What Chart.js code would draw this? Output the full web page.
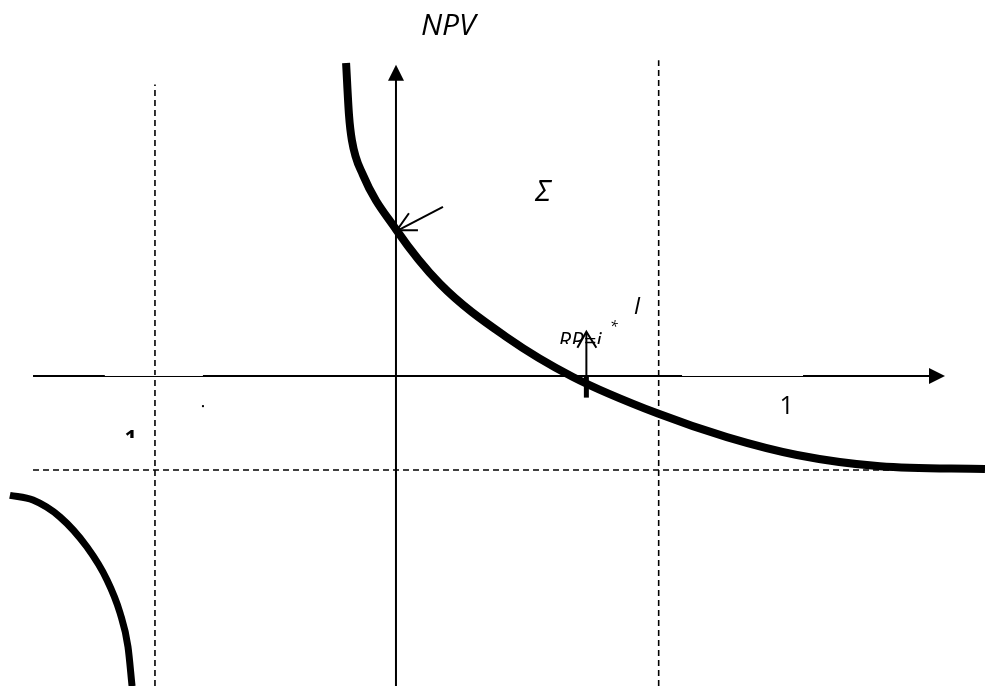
<!DOCTYPE html>
<html>
<head>
<meta charset="utf-8">
<script src="https://cdn.jsdelivr.net/npm/chart.js@4.4.0/dist/chart.umd.min.js"></script>
<style>
  html, body { margin: 0; padding: 0; background: #fff; }
  #wrap { width: 985px; height: 686px; }
</style>
</head>
<body>
<div id="wrap"><canvas id="npv"></canvas></div>
<script>
// NPV(i) curve, both branches of the hyperbola (units: i, NPV / I)
const rightX = [-0.207, -0.195, -0.183, -0.137, 0, 0.183, 0.461, 0.734, 1.087, 1.373, 1.664, 2.008, 2.444];
const rightY = [3.33, 2.78, 2.51, 2.14, 1.56, 0.98, 0.41, -0.01, -0.40, -0.65, -0.84, -0.96, -0.99];
const leftX = [-1.602, -1.506, -1.394, -1.282, -1.199, -1.145, -1.112, -1.095];
const leftY = [-1.27, -1.32, -1.50, -1.82, -2.17, -2.52, -2.88, -3.30];

// asymptotes and marked rates
const asymI = -1;      // i = -1
const asymNPV = -1;    // NPV = -I
const markI = 1.09;    // right dashed line
const irr = 0.79;      // i*

const xMin = -1.643, xMax = 2.444, yMin = -3.298, yMax = 4.0;

const pts = (xs, ys) => xs.map((x, k) => ({ x: x, y: ys[k] }));
const seg = (x1, y1, x2, y2) => [{ x: x1, y: y1 }, { x: x2, y: y2 }];

const dashed = { borderColor: '#000', borderWidth: 1.6, borderDash: [6, 4], pointRadius: 0, showLine: true, tension: 0 };
const solid = { borderColor: '#000', borderWidth: 2, pointRadius: 0, showLine: true, tension: 0 };
const curve = { borderColor: '#000', pointRadius: 0, showLine: true, cubicInterpolationMode: 'monotone', borderCapStyle: 'butt' };

const drawExtras = {
    id: 'drawExtras',
    afterDatasetsDraw(chart) {
        const ctx = chart.ctx;
        const sx = v => chart.scales.x.getPixelForValue(v);
        const sy = v => chart.scales.y.getPixelForValue(v);
        ctx.save();

        // thinner pieces of the i axis
        ctx.strokeStyle = '#fff';
        ctx.lineWidth = 1;
        ctx.beginPath();
        ctx.moveTo(sx(-1.208), sy(0) - 0.5); ctx.lineTo(sx(-0.801), sy(0) - 0.5);
        ctx.moveTo(sx(1.187), sy(0) - 0.5); ctx.lineTo(sx(1.689), sy(0) - 0.5);
        ctx.stroke();

        // filled arrowheads of the axes
        ctx.fillStyle = '#000';
        const ax = sx(2.278), ay = sy(0);
        ctx.beginPath();
        ctx.moveTo(ax, ay); ctx.lineTo(ax - 16, ay - 8); ctx.lineTo(ax - 16, ay + 8); ctx.closePath();
        ctx.fill();
        const bx = sx(0), by = sy(3.31);
        ctx.beginPath();
        ctx.moveTo(bx, by); ctx.lineTo(bx - 8, by + 16); ctx.lineTo(bx + 8, by + 16); ctx.closePath();
        ctx.fill();

        // open arrowheads
        ctx.strokeStyle = '#000';
        ctx.lineWidth = 2;
        const tipA = [sx(0.004), sy(1.55)];
        ctx.beginPath();
        ctx.moveTo(tipA[0] + 12, tipA[1] - 17); ctx.lineTo(tipA[0], tipA[1]); ctx.lineTo(tipA[0] + 21, tipA[1]);
        ctx.stroke();
        const tipB = [sx(irr), sy(0.47)];
        ctx.beginPath();
        ctx.moveTo(tipB[0] - 9, tipB[1] + 16); ctx.lineTo(tipB[0], tipB[1]); ctx.lineTo(tipB[0] + 10, tipB[1] + 16);
        ctx.stroke();

        // thick tick at i*
        ctx.lineWidth = 5;
        ctx.beginPath();
        ctx.moveTo(sx(irr), sy(0)); ctx.lineTo(sx(irr), sy(-0.23));
        ctx.stroke();

        // labels
        ctx.fillStyle = '#000';
        ctx.textBaseline = 'alphabetic';
        ctx.textAlign = 'center';
        ctx.font = 'italic 30px "Open Sans", sans-serif';
        ctx.fillText('NPV', sx(0.217), sy(3.63));
        ctx.fillText('Σ', sx(0.61), sy(1.86));
        ctx.font = 'italic 24px "Open Sans", sans-serif';
        ctx.fillText('I', sx(1.00), sy(0.66));
        ctx.font = '25px "Open Sans", sans-serif';
        ctx.fillText('1', sx(1.621), sy(-0.40));

        // clipped fragments
        const rpClip = sy(0.34);
        ctx.save();
        ctx.beginPath();
        ctx.rect(0, 0, 985, rpClip);
        ctx.clip();
        ctx.textAlign = 'left';
        ctx.font = 'italic 22px "Open Sans", sans-serif';
        ctx.fillText('RP=i', sx(0.674), rpClip + 4);
        ctx.restore();
        ctx.font = 'italic 14px "Open Sans", sans-serif';
        ctx.textAlign = 'left';
        ctx.fillText('*', sx(0.888), sy(0.48));

        const oneClip = sy(-0.66);
        ctx.save();
        ctx.beginPath();
        ctx.rect(0, 0, 985, oneClip);
        ctx.clip();
        ctx.textAlign = 'center';
        ctx.font = 'bold 22px "Open Sans", sans-serif';
        ctx.fillText('1', sx(-1.10), oneClip + 7);
        ctx.restore();

        ctx.fillRect(sx(-0.805), sy(-0.31), 2, 2);
        ctx.restore();
    }
};

new Chart(document.getElementById('npv'), {
    type: 'scatter',
    data: {
        datasets: [
            Object.assign({ data: seg(asymI, yMin, asymI, 3.10) }, dashed),
            Object.assign({ data: seg(markI, yMin, markI, 3.36) }, dashed),
            Object.assign({ data: seg(-1.506, asymNPV, xMax, asymNPV) }, dashed),
            Object.assign({ data: seg(-1.506, 0, 2.22, 0) }, solid),
            Object.assign({ data: seg(0, yMin, 0, 3.2) }, solid),
            Object.assign({ data: seg(0.195, 1.80, 0.008, 1.55) }, solid),
            Object.assign({ data: seg(irr, 0, irr, 0.46) }, solid),
            Object.assign({ data: pts(rightX, rightY), borderWidth: 8 }, curve),
            Object.assign({ data: pts(leftX, leftY), borderWidth: 7 }, curve)
        ]
    },
    options: {
        responsive: true,
        maintainAspectRatio: false,
        animation: false,
        layout: { padding: 0 },
        plugins: { legend: { display: false }, tooltip: { enabled: false } },
        scales: {
            x: { type: 'linear', min: xMin, max: xMax, display: false },
            y: { type: 'linear', min: yMin, max: yMax, display: false }
        }
    },
    plugins: [drawExtras]
});
</script>
</body>
</html>
